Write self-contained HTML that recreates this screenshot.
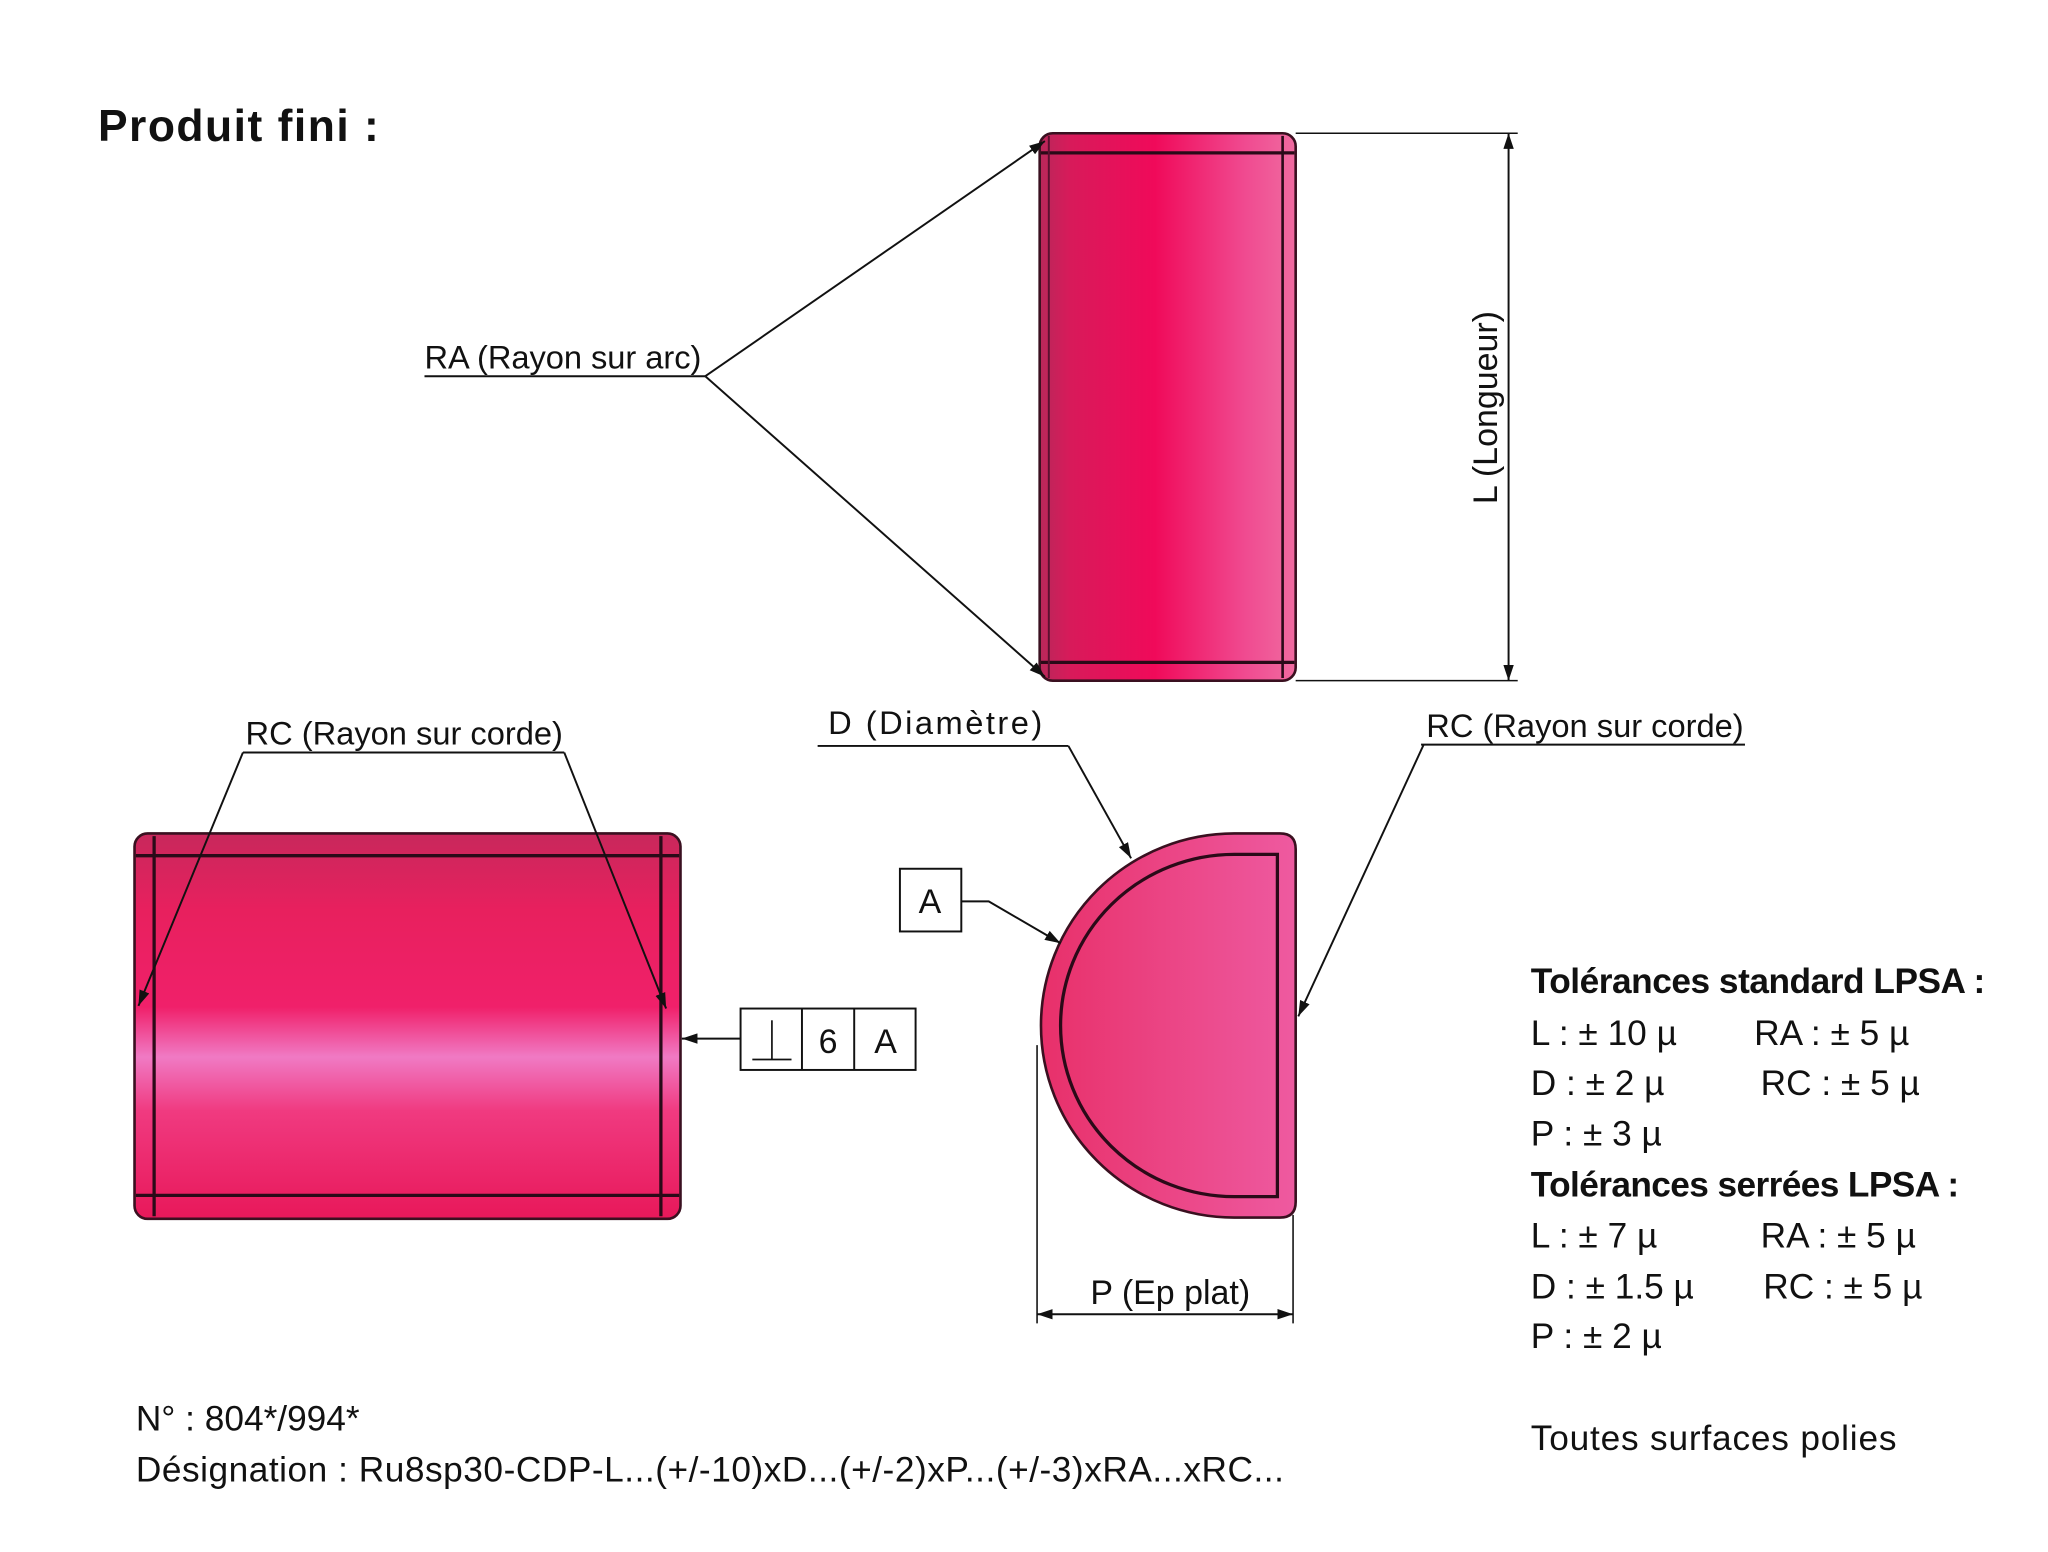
<!DOCTYPE html>
<html><head><meta charset="utf-8"><style>
html,body{margin:0;padding:0;background:#fff;}
svg{display:block;}
text{font-family:"Liberation Sans",sans-serif;fill:#111;}
</style></head><body>
<svg width="2048" height="1552" viewBox="0 0 1568 1188" preserveAspectRatio="none" xmlns="http://www.w3.org/2000/svg">
<defs>
<linearGradient id="gv" x1="0" y1="0" x2="1" y2="0">
<stop offset="0" stop-color="#b8285a"/><stop offset="0.12" stop-color="#d81a5a"/>
<stop offset="0.45" stop-color="#f00a5a"/><stop offset="0.8" stop-color="#f04a90"/><stop offset="1" stop-color="#f06aa0"/>
</linearGradient>
<linearGradient id="gh" x1="0" y1="0" x2="0" y2="1">
<stop offset="0" stop-color="#c8285c"/><stop offset="0.2" stop-color="#e8205e"/>
<stop offset="0.45" stop-color="#f0206a"/><stop offset="0.58" stop-color="#f07ac4"/>
<stop offset="0.72" stop-color="#f03a80"/><stop offset="1" stop-color="#e8185a"/>
</linearGradient>
<linearGradient id="gd" x1="0" y1="0" x2="1" y2="0">
<stop offset="0" stop-color="#e8306a"/><stop offset="1" stop-color="#ee5aa0"/>
</linearGradient>
<marker id="ar" markerWidth="12" markerHeight="8" refX="12" refY="4" orient="auto" markerUnits="userSpaceOnUse">
<path d="M0,0 L12,4 L0,8 Z" fill="#111"/></marker>
<marker id="ars" markerWidth="12" markerHeight="8" refX="0" refY="4" orient="auto" markerUnits="userSpaceOnUse">
<path d="M12,0 L0,4 L12,8 Z" fill="#111"/></marker>
</defs>

<text x="75" y="108" font-size="34" font-weight="bold" textLength="215">Produit fini :</text>

<rect x="796" y="102" width="196" height="419" rx="10" fill="url(#gv)" stroke="#3a1020" stroke-width="2"/>
<line x1="797" y1="117" x2="991" y2="117" stroke="#2a0a18" stroke-width="2.5"/>
<line x1="797" y1="507" x2="991" y2="507" stroke="#2a0a18" stroke-width="2.5"/>
<line x1="803" y1="104" x2="803" y2="519" stroke="#5a1030" stroke-width="1.5"/>
<line x1="982" y1="104" x2="982" y2="519" stroke="#2a0a18" stroke-width="2"/>

<line x1="992" y1="102" x2="1162" y2="102" stroke="#111" stroke-width="1.2"/>
<line x1="992" y1="521" x2="1162" y2="521" stroke="#111" stroke-width="1.2"/>
<line x1="1155" y1="102" x2="1155" y2="521" stroke="#111" stroke-width="1.5" marker-start="url(#ars)" marker-end="url(#ar)"/>
<text x="0" y="0" font-size="26" transform="translate(1146,312) rotate(-90)" text-anchor="middle">L (Longueur)</text>

<text x="325" y="282" font-size="25" textLength="212">RA (Rayon sur arc)</text>
<line x1="325" y1="288" x2="540" y2="288" stroke="#111" stroke-width="1.5"/>
<line x1="540" y1="288" x2="800" y2="108" stroke="#111" stroke-width="1.5" marker-end="url(#ar)"/>
<line x1="540" y1="288" x2="800" y2="518" stroke="#111" stroke-width="1.5" marker-end="url(#ar)"/>

<rect x="103" y="638" width="418" height="295" rx="10" fill="url(#gh)" stroke="#3a1020" stroke-width="2"/>
<line x1="104" y1="655" x2="520" y2="655" stroke="#2a0a18" stroke-width="2.5"/>
<line x1="104" y1="915" x2="520" y2="915" stroke="#2a0a18" stroke-width="2.5"/>
<line x1="118" y1="640" x2="118" y2="931" stroke="#2a0a18" stroke-width="2.5"/>
<line x1="506" y1="640" x2="506" y2="931" stroke="#2a0a18" stroke-width="2.5"/>

<text x="188" y="570" font-size="25" textLength="243">RC (Rayon sur corde)</text>
<line x1="186" y1="576" x2="432" y2="576" stroke="#111" stroke-width="1.5"/>
<line x1="186" y1="576" x2="106" y2="770" stroke="#111" stroke-width="1.5" marker-end="url(#ar)"/>
<line x1="432" y1="576" x2="510" y2="772" stroke="#111" stroke-width="1.5" marker-end="url(#ar)"/>

<rect x="567" y="772" width="134" height="47" fill="#fff" stroke="#111" stroke-width="1.5"/>
<line x1="614" y1="772" x2="614" y2="819" stroke="#111" stroke-width="1.5"/>
<line x1="654" y1="772" x2="654" y2="819" stroke="#111" stroke-width="1.5"/>
<line x1="576" y1="811" x2="606" y2="811" stroke="#111" stroke-width="1.3"/>
<line x1="591" y1="781" x2="591" y2="811" stroke="#111" stroke-width="1.3"/>
<text x="634" y="806" font-size="26" text-anchor="middle">6</text>
<text x="678" y="806" font-size="26" text-anchor="middle">A</text>
<line x1="567" y1="795" x2="522" y2="795" stroke="#111" stroke-width="1.5" marker-end="url(#ar)"/>

<path d="M945 638 L980 638 Q992 638 992 650 L992 920 Q992 932 980 932 L945 932 A148 147 0 0 1 945 638 Z" fill="url(#gd)" stroke="#3a1020" stroke-width="2"/>
<path d="M945 654 L978 654 L978 916 L945 916 A133 131 0 0 1 945 654 Z" fill="none" stroke="#2a0a18" stroke-width="2.5"/>

<rect x="689" y="665" width="47" height="48" fill="#fff" stroke="#111" stroke-width="1.5"/>
<text x="712" y="699" font-size="26" text-anchor="middle">A</text>
<polyline points="736,690 757,690 812,722" fill="none" stroke="#111" stroke-width="1.5" marker-end="url(#ar)"/>

<text x="634" y="562" font-size="25" textLength="164">D (Diamètre)</text>
<line x1="626" y1="571" x2="818" y2="571" stroke="#111" stroke-width="1.5"/>
<line x1="818" y1="571" x2="866" y2="657" stroke="#111" stroke-width="1.5" marker-end="url(#ar)"/>

<text x="1092" y="564" font-size="25" textLength="243">RC (Rayon sur corde)</text>
<line x1="1088" y1="570" x2="1336" y2="570" stroke="#111" stroke-width="1.5"/>
<line x1="1090" y1="570" x2="994" y2="778" stroke="#111" stroke-width="1.5" marker-end="url(#ar)"/>

<line x1="794" y1="800" x2="794" y2="1013" stroke="#111" stroke-width="1.2"/>
<line x1="990" y1="930" x2="990" y2="1013" stroke="#111" stroke-width="1.2"/>
<line x1="794" y1="1006" x2="990" y2="1006" stroke="#111" stroke-width="1.5" marker-start="url(#ars)" marker-end="url(#ar)"/>
<text x="896" y="998" font-size="26" text-anchor="middle">P (Ep plat)</text>

<g font-size="27">
<text x="1172" y="760" font-weight="bold" textLength="348">Tolérances standard LPSA :</text>
<text x="1172" y="800">L : ± 10 µ</text><text x="1343" y="800">RA : ± 5 µ</text>
<text x="1172" y="838">D : ± 2 µ</text><text x="1348" y="838">RC : ± 5 µ</text>
<text x="1172" y="877">P : ± 3 µ</text>
<text x="1172" y="916" font-weight="bold" textLength="328">Tolérances serrées LPSA :</text>
<text x="1172" y="955">L : ± 7 µ</text><text x="1348" y="955">RA : ± 5 µ</text>
<text x="1172" y="994">D : ± 1.5 µ</text><text x="1350" y="994">RC : ± 5 µ</text>
<text x="1172" y="1032">P : ± 2 µ</text>
<text x="1172" y="1110" textLength="280">Toutes surfaces polies</text>
</g>

<text x="104" y="1095" font-size="27">N° : 804*/994*</text>
<text x="104" y="1134" font-size="27" textLength="879">Désignation : Ru8sp30-CDP-L...(+/-10)xD...(+/-2)xP...(+/-3)xRA...xRC...</text>
</svg>
</body></html>
